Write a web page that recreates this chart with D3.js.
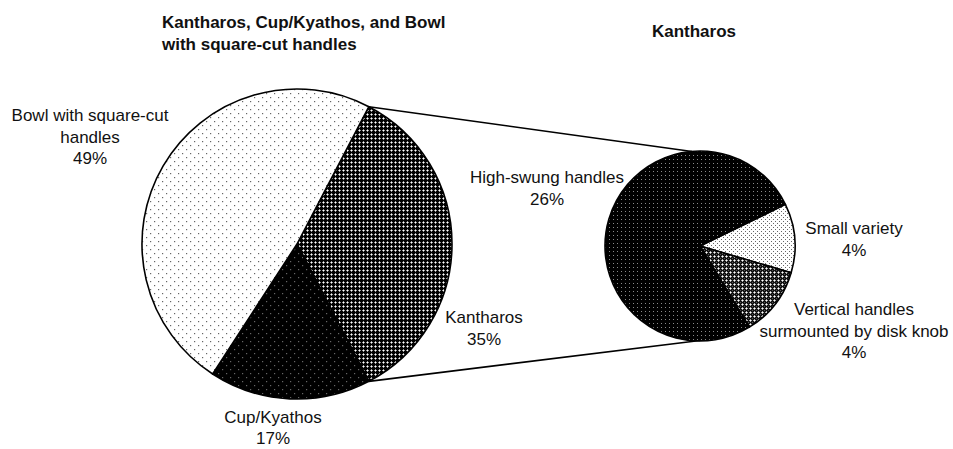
<!DOCTYPE html>
<html>
<head>
<meta charset="utf-8">
<script src="https://cdn.jsdelivr.net/npm/d3@7/dist/d3.min.js"></script>
<style>
  html, body { margin: 0; padding: 0; background: #fff; }
  svg { display: block; }
  text { font-family: "Liberation Sans", Arial, Helvetica, sans-serif; fill: #111; }
</style>
</head>
<body>
<svg id="chart" width="953" height="449"></svg>
<script>
// Main pie: share of each vessel type (percent)
const mainCategories = ["Kantharos", "Cup/Kyathos", "Bowl with square-cut handles"];
const mainValues = [35, 17, 49];
// Secondary pie: breakdown of the kantharos (percent of all vessels)
const subCategories = ["Small variety", "Vertical handles surmounted by disk knob", "High-swung handles"];
const subValues = [4, 4, 26];
// Titles
const mainTitle = ["Kantharos, Cup/Kyathos, and Bowl", "with square-cut handles"];
const subTitle = "Kantharos";

const svg = d3.select("#chart");
const defs = svg.append("defs");
const deg = Math.PI / 180;

// ---- fill patterns -------------------------------------------------------
function pattern(id, size, bg, draw) {
  const p = defs.append("pattern")
    .attr("id", id).attr("patternUnits", "userSpaceOnUse")
    .attr("width", size).attr("height", size);
  p.append("rect").attr("width", size).attr("height", size).attr("fill", bg);
  draw(p);
}
function dots(p, pts, color, s) {
  pts.forEach(([x, y]) => p.append("rect").attr("x", x).attr("y", y)
    .attr("width", s).attr("height", s).attr("fill", color));
}
// a small cross: bright centre pixel with softer arms
function cross(p, cx, cy, centre, arms) {
  dots(p, [[cx - 1, cy], [cx + 1, cy], [cx, cy - 1], [cx, cy + 1]], arms, 1);
  dots(p, [[cx, cy]], centre, 1);
}
// sparse dots on white
pattern("pBowl", 8, "#fff", p => dots(p, [[1, 1], [5, 5]], "#666", 1.2));
// sparse grey dots on black
pattern("pCup", 8, "#000", p => dots(p, [[1, 1], [5, 5]], "#666", 1.2));
// dark lattice of white crosses
pattern("pKanth", 4, "#000", p => cross(p, 2, 2, "#fff", "#9a9a9a"));
// a slightly lighter lattice
pattern("pVert", 4, "#111", p => { cross(p, 2, 2, "#fff", "#aaa"); dots(p, [[0, 0]], "#555", 1); });
// dense grey dots on black
pattern("pHigh", 4, "#000", p => dots(p, [[1, 1]], "#8a8a8a", 1));
// dense dark dots on white
pattern("pSmall", 4, "#fff", p => dots(p, [[1, 1], [3, 3]], "#666", 1));

const mainFills = ["url(#pKanth)", "url(#pCup)", "url(#pBowl)"];
const subFills = ["url(#pSmall)", "url(#pVert)", "url(#pHigh)"];

// ---- geometry ------------------------------------------------------------
const main = { cx: 297, cy: 244, r: 155 };
const sub = { cx: 700, cy: 246, r: 95 };

const mainTotal = d3.sum(mainValues);
// the exploded slice (Kantharos) is centred at 3 o'clock
const mainStart = 90 * deg - (mainValues[0] / mainTotal) * Math.PI;
const mainPie = d3.pie().sort(null).startAngle(mainStart).endAngle(mainStart + 2 * Math.PI);
const subStart = 64 * deg;
const subPie = d3.pie().sort(null).startAngle(subStart).endAngle(subStart + 2 * Math.PI);

const mainArcs = mainPie(mainValues);
const subArcs = subPie(subValues);

const arcMain = d3.arc().innerRadius(0).outerRadius(main.r);
const arcSub = d3.arc().innerRadius(0).outerRadius(sub.r);

// ---- connector lines -----------------------------------------------------
const k = mainArcs[0];
const edge = a => [main.cx + main.r * Math.sin(a), main.cy - main.r * Math.cos(a)];
const [tx, ty] = edge(k.startAngle);
const [bx, by] = edge(k.endAngle);
svg.append("line").attr("x1", tx).attr("y1", ty).attr("x2", sub.cx - 8).attr("y2", sub.cy - sub.r + 0.5)
  .attr("stroke", "#000").attr("stroke-width", 1.6);
svg.append("line").attr("x1", bx).attr("y1", by).attr("x2", sub.cx).attr("y2", sub.cy + sub.r - 0.5)
  .attr("stroke", "#000").attr("stroke-width", 1.6);

// ---- pies ----------------------------------------------------------------
svg.append("g").attr("transform", `translate(${main.cx},${main.cy})`)
  .selectAll("path").data(mainArcs).join("path")
  .attr("d", arcMain)
  .attr("fill", (d, i) => mainFills[i])
  .attr("stroke", "#000").attr("stroke-width", 1.6).attr("stroke-linejoin", "round");

svg.append("g").attr("transform", `translate(${sub.cx},${sub.cy})`)
  .selectAll("path").data(subArcs).join("path")
  .attr("d", arcSub)
  .attr("fill", (d, i) => subFills[i])
  .attr("stroke", "#000").attr("stroke-width", 1.6).attr("stroke-linejoin", "round");

// ---- labels --------------------------------------------------------------
function label(x, y, lines, opts = {}) {
  const gap = opts.gap || 21.5;
  const t = svg.append("text")
    .attr("x", x).attr("y", y)
    .attr("text-anchor", opts.anchor || "middle")
    .attr("font-size", opts.size || 17)
    .attr("font-weight", opts.weight || "normal");
  lines.forEach((s, i) => t.append("tspan").attr("x", x).attr("dy", i === 0 ? 0 : gap).text(s));
}

// label anchors for each slice, in chart coordinates
const mainLabelPos = [[484, 323], [273, 423], [90, 121]];
const mainLabelLines = [["Kantharos"], ["Cup/Kyathos"], ["Bowl with square-cut", "handles"]];
mainValues.forEach((v, i) => label(mainLabelPos[i][0], mainLabelPos[i][1], [...mainLabelLines[i], `${v}%`],
  i === 1 ? { gap: 20.5 } : {}));

const subLabelPos = [[854, 234], [854, 315], [547, 183]];
const subLabelLines = [["Small variety"], ["Vertical handles", "surmounted by disk knob"], ["High-swung handles"]];
subValues.forEach((v, i) => label(subLabelPos[i][0], subLabelPos[i][1], [...subLabelLines[i], `${v}%`]));

// titles
label(162, 28, mainTitle, { anchor: "start", weight: "bold", size: 17 });
label(694, 37, [subTitle], { weight: "bold", size: 17 });
</script>
</body>
</html>
